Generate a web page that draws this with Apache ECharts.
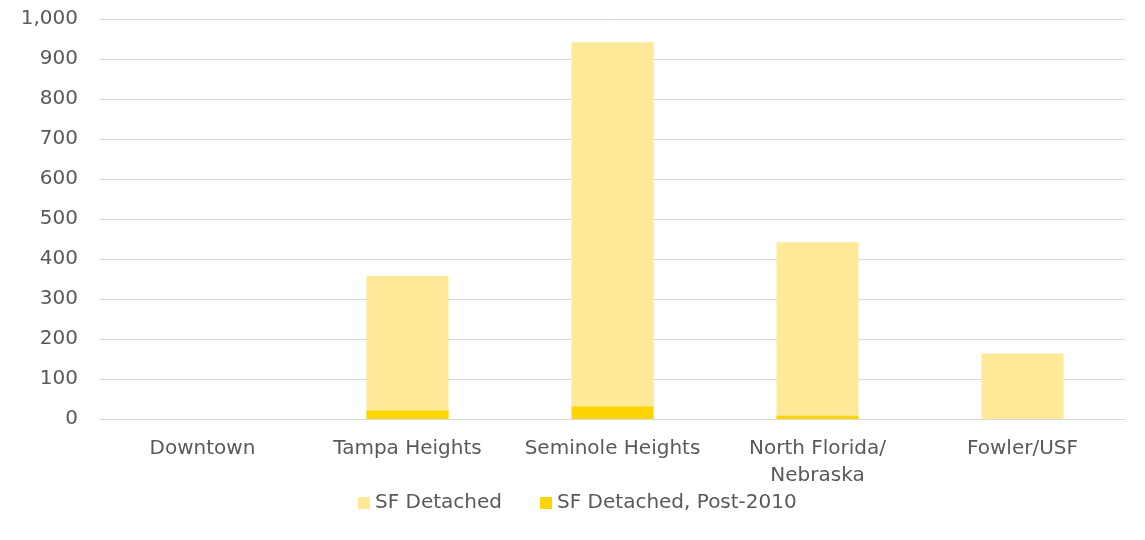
<!DOCTYPE html>
<html>
<head>
<meta charset="utf-8">
<style>
  html, body { margin: 0; padding: 0; background: #ffffff; }
  #chart { width: 1145px; height: 540px; }
</style>
<script src="https://cdn.jsdelivr.net/npm/echarts@6/dist/echarts.min.js"></script>
</head>
<body>
<div id="chart"></div>
<script>
// Single-family detached housing units by neighborhood
const categories = ['Downtown', 'Tampa Heights', 'Seminole Heights', 'North Florida/\nNebraska', 'Fowler/USF'];
const sfDetached = [0, 358, 942, 442, 164];
const sfDetachedPost2010 = [0, 21, 31, 8, 0];
const yTicks = { min: 0, max: 1000, interval: 100 };

const FONT = 'DejaVu Sans';
const TEXT = '#595959';
const SIZE = 20;

const chart = echarts.init(document.getElementById('chart'), null, { renderer: 'canvas' });
chart.setOption({
  animation: false,
  backgroundColor: '#ffffff',
  textStyle: { fontFamily: FONT },
  grid: { left: 100, right: 20, top: 19, bottom: 121, containLabel: false },
  legend: {
    bottom: 22,
    left: 353,
    itemWidth: 12,
    itemHeight: 12,
    itemGap: 38,
    icon: 'rect',
    textStyle: { fontFamily: FONT, fontSize: SIZE, color: TEXT },
    data: ['SF Detached', 'SF Detached, Post-2010']
  },
  xAxis: {
    type: 'category',
    data: categories,
    axisLine: { show: true, lineStyle: { color: '#d9d9d9', width: 1 } },
    axisTick: { show: false },
    axisLabel: { fontFamily: FONT, fontSize: SIZE, color: TEXT, margin: 16, lineHeight: 27, interval: 0 }
  },
  yAxis: {
    type: 'value',
    min: yTicks.min,
    max: yTicks.max,
    interval: yTicks.interval,
    axisLine: { show: false },
    axisTick: { show: false },
    splitLine: { show: true, lineStyle: { color: '#d9d9d9', width: 1 } },
    axisLabel: {
      fontFamily: FONT, fontSize: SIZE, color: TEXT, margin: 22,
      formatter: v => v.toLocaleString('en-US')
    }
  },
  series: [
    {
      name: 'SF Detached',
      type: 'bar',
      data: sfDetached,
      barWidth: '40%',
      barGap: '-100%',
      itemStyle: { color: '#fee998' }
    },
    {
      name: 'SF Detached, Post-2010',
      type: 'bar',
      data: sfDetachedPost2010,
      barWidth: '40%',
      barGap: '-100%',
      itemStyle: { color: '#ffd500' }
    }
  ]
});
</script>
</body>
</html>
